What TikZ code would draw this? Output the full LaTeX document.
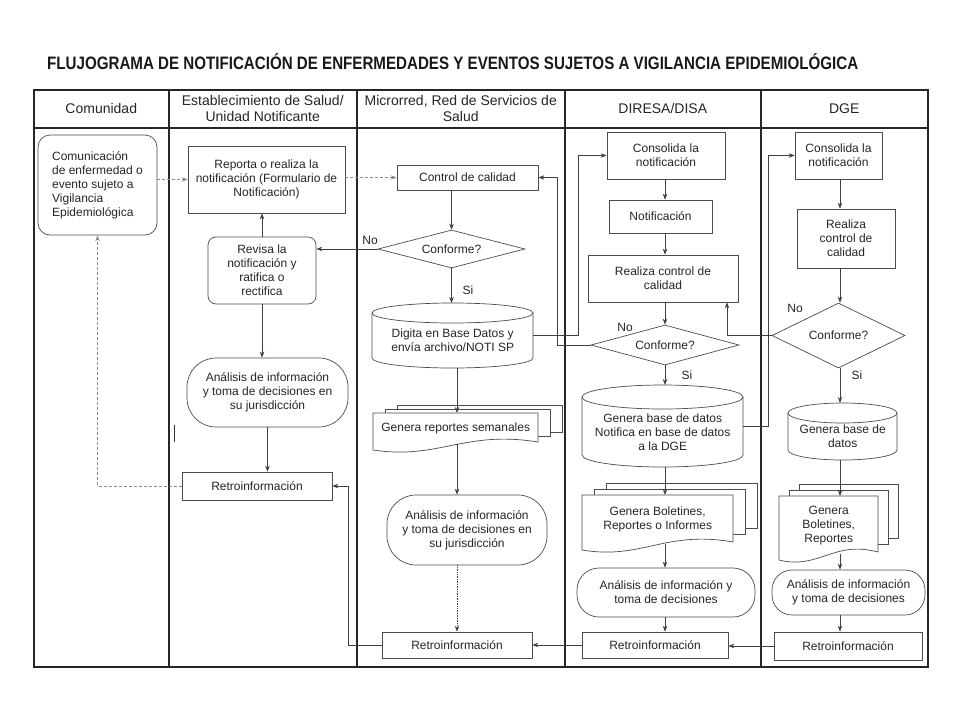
\documentclass[tikz,border=0pt]{standalone}
\usepackage{fontspec}
\setmainfont{Liberation Sans}
\usepackage{graphicx}
\usetikzlibrary{arrows.meta,calc,shapes.geometric}

\tikzset{
  lane/.style={draw=black!85, line width=1.5pt, inner sep=0pt, anchor=north west},
  head/.style={lane, font=\fontsize{14pt}{16pt}\selectfont, align=center, text=black!85},
  shapeline/.style={draw=black!70, line width=0.7pt},
  txt/.style={font=\fontsize{12pt}{14pt}\selectfont, align=center, text=black!85, inner sep=1pt},
  box/.style={txt, shapeline, fill=white},
  arr/.style={-{Stealth[length=6pt,width=4.5pt]}, draw=black!75, line width=0.7pt},
  farr/.style={arr, draw=black!45, densely dashed},
  lbl/.style={font=\fontsize{12pt}{14pt}\selectfont, text=black!85, inner sep=0pt},
  sz/.style 2 args={minimum width=#1pt, minimum height=#2pt},
}

% multi-document: name, x0, y0, x1, y1, dx, dy, text
\newcommand{\MDoc}[8]{%
  \foreach \k in {2,1}{%
    \filldraw[shapeline,fill=white] ({#2+\k*#6},{#3-\k*#7}) rectangle ({#4+\k*#6},{#5-12-\k*#7});
  }
  \filldraw[shapeline,fill=white] (#2,{#5-2}) -- (#2,#3) -- (#4,#3) -- (#4,{#5-10})
     .. controls ({#4-0.45*(#4-#2)},{#5-22}) and ({#2+0.4*(#4-#2)},{#5+8}) .. (#2,{#5-2}) -- cycle;
  \node[txt, inner sep=0pt, minimum width={(#4-#2)*1pt}, minimum height={(#5-#3-8)*1pt}, anchor=north west] (#1) at (#2,#3) {#8};
}

% cylinder: name, x0, y0, x1, y1, ry, text
\newcommand{\Cyl}[7]{%
  \filldraw[shapeline,fill=white] (#2,{#3+#6}) -- (#2,{#5-#6})
     arc[start angle=180,end angle=360,x radius={(#4-#2)/2*1pt},y radius={#6*1pt}]
     -- (#4,{#3+#6})
     arc[start angle=0,end angle=180,x radius={(#4-#2)/2*1pt},y radius={#6*1pt}] -- cycle;
  \draw[shapeline] (#2,{#3+#6}) arc[start angle=180,end angle=360,x radius={(#4-#2)/2*1pt},y radius={#6*1pt}];
  \node[inner sep=0pt, minimum width={(#4-#2)*1pt}, minimum height={(#5-#3)*1pt}, anchor=north west] (#1) at (#2,#3) {};
  \node[txt] (#1t) at ([yshift={-#6/2*1pt}]#1.center) {#7};
}

\begin{document}
\begin{tikzpicture}[x=1pt,y=-1pt]
\useasboundingbox (0,0) rectangle (960,720);
\fill[white] (0,0) rectangle (960,720);

% title
\node[anchor=base west, inner sep=0pt, text=black!90] (title) at (47,69)
  {\resizebox{811pt}{\height}{\fontsize{18pt}{20pt}\selectfont\bfseries FLUJOGRAMA DE NOTIFICACIÓN DE ENFERMEDADES Y EVENTOS SUJETOS A VIGILANCIA EPIDEMIOLÓGICA}};

% header cells
\node[head, sz={135}{38}] (h1) at (33,89) {Comunidad};
\node[head, sz={188}{38}] (h2) at (168,89) {Establecimiento de Salud/\\Unidad Notificante};
\node[head, sz={208}{38}] (h3) at (356,89) {Microrred, Red de Servicios de\\Salud};
\node[head, sz={196}{38}] (h4) at (564,89) {DIRESA/DISA};
\node[head, sz={167}{38}] (h5) at (760,89) {DGE};

% lanes
\node[lane, sz={135}{539}] (L1) at (33,127) {};
\node[lane, sz={188}{539}] (L2) at (168,127) {};
\node[lane, sz={208}{539}] (L3) at (356,127) {};
\node[lane, sz={196}{539}] (L4) at (564,127) {};
\node[lane, sz={167}{539}] (L5) at (760,127) {};

% stray mark
\draw[line width=1pt, black!80] (174,425) -- (174,442);

% ---- Comunidad
\node[box, sz={119}{100}, rounded corners=12pt, align=left] (com) at (97.5,185)
  {Comunicación\\de enfermedad o\\evento sujeto a\\Vigilancia\\Epidemiológica};

% ---- Establecimiento
\node[box, sz={157}{67}] (rep) at (266.5,179.5) {Reporta o realiza la\\notificación (Formulario de\\Notificación)};
\node[box, sz={108}{67}, rounded corners=8pt] (rev) at (262,270.5) {Revisa la\\notificación y\\ratifica o\\rectifica};
\node[box, sz={161}{69}, rounded corners=29pt] (ana1) at (267.5,392.5) {Análisis de información\\y toma de decisiones en\\su jurisdicción};
\node[box, sz={150}{28}] (ret1) at (257,486) {Retroinformación};

% ---- Microrred
\node[box, sz={141}{25}] (ctl) at (467.5,177.5) {Control de calidad};
\node[box, diamond, aspect=3.5, inner sep=0pt, sz={147}{38}] (dia1) at (451.5,249) {Conforme?};
\Cyl{db1}{372}{303}{533}{368}{10}{Digita en Base Datos y\\envía archivo/NOTI SP}
\MDoc{doc1}{373}{413}{538}{452}{12}{4}{Genera reportes semanales}
\node[box, sz={160}{70}, rounded corners=29pt] (ana2) at (467,530) {Análisis de información\\y toma de decisiones en\\su jurisdicción};
\node[box, sz={150}{26}] (ret2) at (457,645) {Retroinformación};

% ---- DIRESA
\node[box, sz={118}{47}] (con1) at (666,155.5) {Consolida la\\notificación};
\node[box, sz={103}{33}] (not1) at (660.5,216.5) {Notificación};
\node[box, sz={150}{47}] (rc1) at (663,278.5) {Realiza control de\\calidad};
\node[box, diamond, aspect=3.5, inner sep=0pt, sz={148}{40}] (dia2) at (665,345) {Conforme?};
\Cyl{db2}{582}{385}{743}{467}{12}{Genera base de datos\\Notifica en base de datos\\a la DGE}
\MDoc{doc2}{582}{495}{733}{552}{12}{6}{Genera Boletines,\\Reportes o Informes}
\node[box, sz={178}{49}, rounded corners=22pt] (ana3) at (666,592.5) {Análisis de información y\\toma de decisiones};
\node[box, sz={146}{26}] (ret3) at (655,645) {Retroinformación};

% ---- DGE
\node[box, sz={87}{47}] (con2) at (838.5,155.5) {Consolida la\\notificación};
\node[box, sz={98}{59}] (rc2) at (846,238.5) {Realiza\\control de\\calidad};
\node[box, diamond, aspect=2, inner sep=0pt, sz={133}{65}] (dia3) at (838.5,335.5) {Conforme?};
\Cyl{db3}{788}{403}{897}{460}{10}{Genera base de\\datos}
\MDoc{doc3}{779}{496}{878}{562}{10}{6}{Genera\\Boletines,\\Reportes}
\node[box, sz={153}{45}, rounded corners=20pt] (ana4) at (848.5,592.5) {Análisis de información\\y toma de decisiones};
\node[box, sz={148}{28}] (ret4) at (848,646) {Retroinformación};

% labels
\node[lbl] (no1) at (370,240) {No};
\node[lbl] (si1) at (468,290) {Si};
\node[lbl] (no2) at (625,327) {No};
\node[lbl] (si2) at (687,375) {Si};
\node[lbl] (no3) at (795,308) {No};
\node[lbl] (si3) at (857,375) {Si};

% helper x positions
\coordinate (x348) at (348,0);
\coordinate (x557) at (557,0);
\coordinate (x578) at (578,0);
\coordinate (x665) at (665,0);
\coordinate (x727) at (727,0);
\coordinate (x768) at (768,0);
\coordinate (x840) at (840,0);
\coordinate (x457) at (457,0);

% ---- connectors Comunidad / Establecimiento
\draw[farr] (com.east |- rep.west) -- (rep.west);
\draw[farr] (rep.east |- ctl.west) -- (ctl.west);
\draw[arr] (rev.north) -- (rev.north |- rep.south);
\draw[arr] (dia1.west) -- (dia1.west -| rev.east);
\draw[arr] (rev.south) -- (rev.south |- ana1.north);
\draw[arr] (ana1.south) -- (ana1.south |- ret1.north);
\draw[farr] (ret1.west) -| (com.south);

% ---- Microrred
\draw[arr] (ctl.south -| dia1.north) -- (dia1.north);
\draw[arr] (dia1.south) -- (dia1.south |- db1.north);
\draw[arr] (db1.south -| x457) -- (doc1.north -| x457);
\draw[arr] (doc1.south -| x457) -- (ana2.north -| x457);
\draw[arr, densely dotted] (ana2.south -| x457) -- (ret2.north -| x457);
\draw[arr] (ret2.west) -- (ret2.west -| x348) -- (ret1.east -| x348) -- (ret1.east);
\draw[arr] (db1.east) -- (db1.east -| x578) -- (con1.west -| x578) -- (con1.west);
\draw[arr] (dia2.west) -- (dia2.west -| x557) -- (ctl.east -| x557) -- (ctl.east);

% ---- DIRESA
\draw[arr] (con1.south -| x665) -- (not1.north -| x665);
\draw[arr] (not1.south -| x665) -- (rc1.north -| x665);
\draw[arr] (rc1.south -| x665) -- (dia2.north);
\draw[arr] (dia2.south) -- (db2.north -| x665);
\draw[arr] (db2.south -| x665) -- (doc2.north -| x665);
\draw[arr] (doc2.south -| x665) -- (ana3.north -| x665);
\draw[arr] (ana3.south -| x665) -- (ret3.north -| x665);
\draw[arr] (ret3.west) -- (ret3.west -| ret2.east);
\draw[arr] (dia3.west) -- (dia3.west -| x727) -- (rc1.south -| x727);
\draw[arr] (db2.east) -- (db2.east -| x768) -- (con2.west -| x768) -- (con2.west);

% ---- DGE
\draw[arr] (con2.south -| x840) -- (rc2.north -| x840);
\draw[arr] (rc2.south -| x840) -- (dia3.north -| x840);
\draw[arr] (dia3.south -| x840) -- (db3.north -| x840);
\draw[arr] (db3.south -| x840) -- (doc3.north -| x840);
\draw[arr] (doc3.south -| x840) -- (ana4.north -| x840);
\draw[arr] (ana4.south -| x840) -- (ret4.north -| x840);
\draw[arr] (ret4.west) -- (ret4.west -| ret3.east);
\end{tikzpicture}
\end{document}
